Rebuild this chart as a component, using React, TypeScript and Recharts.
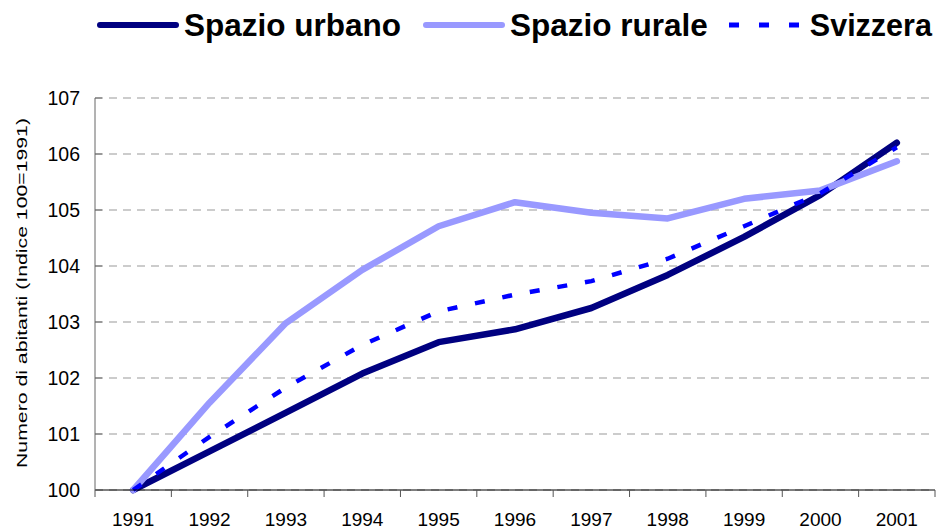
import React from "react";
import { LineChart, Line, XAxis, YAxis, CartesianGrid } from "recharts";

const years = ["1991", "1992", "1993", "1994", "1995", "1996", "1997", "1998", "1999", "2000", "2001"];
const urbano = [100, 100.69, 101.38, 102.08, 102.64, 102.87, 103.25, 103.84, 104.52, 105.27, 106.2];
const rurale = [100, 101.56, 102.98, 103.93, 104.71, 105.14, 104.95, 104.85, 105.2, 105.35, 105.87];
const svizzera = [100, 100.95, 101.83, 102.59, 103.19, 103.49, 103.73, 104.13, 104.71, 105.3, 106.12];
const yTicks = [100, 101, 102, 103, 104, 105, 106, 107];

const seriesNames = ["Spazio urbano", "Spazio rurale", "Svizzera"];
const seriesColors = ["#000080", "#9999FF", "#0000FF"];

const data = years.map((y, i) => ({ year: y, urbano: urbano[i], rurale: rurale[i], svizzera: svizzera[i] }));

const W = 940;
const H = 529;
const M = { top: 98, right: 5, bottom: 0, left: 0 };
const Y_W = 95;
const X_H = 39;
const BAND = (W - M.left - M.right - Y_W) / years.length;
const FONT = "'Liberation Sans', Arial, sans-serif";

const XTick = (props: any) => {
  const { x, y, payload, index } = props;
  const left = x - BAND / 2;
  return (
    <g>
      <line x1={left} y1={y} x2={left} y2={y + 7} stroke="#555" strokeWidth={1} />
      {index === years.length - 1 && (
        <line x1={x + BAND / 2} y1={y} x2={x + BAND / 2} y2={y + 7} stroke="#555" strokeWidth={1} />
      )}
      <text x={x} y={y + 23} dy="0.71em" textAnchor="middle" fontSize={19} fontFamily={FONT} fill="#000">
        {payload.value}
      </text>
    </g>
  );
};

const YTick = (props: any) => {
  const { x, y, payload } = props;
  return (
    <g>
      <line x1={x} y1={y} x2={x + 7} y2={y} stroke="#666" strokeWidth={1} />
      <text x={x - 15} y={y} dy="0.36em" textAnchor="end" fontSize={19.5} fontFamily={FONT} fill="#000">
        {payload.value}
      </text>
    </g>
  );
};

const YLabel = () => (
  <text
    x={27}
    y={293}
    transform="rotate(-90 27 293)"
    textAnchor="middle"
    fontSize={15}
    fontFamily={FONT}
    fill="#000"
    textLength={350}
    lengthAdjust="spacingAndGlyphs"
  >
    Numero di abitanti (Indice 100=1991)
  </text>
);

const legendSvgW = [82, 82, 72];
const legendTextGap = [5, 5, 9];
const legendItemGap = [22, 21, 0];

const Legend = () => (
  <div
    style={{
      position: "absolute",
      left: 97,
      top: 5,
      display: "flex",
      alignItems: "center",
      fontFamily: FONT,
      fontWeight: "bold",
      fontSize: 31.5,
      lineHeight: "40px",
      color: "#000",
      whiteSpace: "nowrap",
    }}
  >
    {seriesNames.map((n, i) => (
      <div key={n} style={{ display: "flex", alignItems: "center", marginRight: legendItemGap[i] }}>
        <svg width={legendSvgW[i]} height={12} style={{ marginRight: legendTextGap[i] }}>
          {i === 2 ? (
            <line x1={0} y1={6} x2={72} y2={6} stroke={seriesColors[i]} strokeWidth={5} strokeDasharray="10 20" />
          ) : (
            <line x1={3} y1={6} x2={79} y2={6} stroke={seriesColors[i]} strokeWidth={6} strokeLinecap="round" />
          )}
        </svg>
        <span style={{ fontSize: i === 2 ? 30.5 : 31.5 }}>{n}</span>
      </div>
    ))}
  </div>
);

export default function App() {
  return (
    <div style={{ position: "fixed", left: 0, top: 0, width: W, height: H, background: "#fff" }}>
      <Legend />
      <LineChart width={W} height={H} data={data} margin={M}>
        <CartesianGrid vertical={false} stroke="#999" strokeDasharray="8 6" />
        <XAxis
          dataKey="year"
          scale="band"
          height={X_H}
          axisLine={{ stroke: "#000", strokeWidth: 1 }}
          tickLine={false}
          tickSize={0}
          tickMargin={0}
          tick={<XTick />}
          interval={0}
        />
        <YAxis
          width={Y_W}
          domain={[100, 107]}
          ticks={yTicks}
          axisLine={{ stroke: "#666", strokeWidth: 1 }}
          tickLine={false}
          tickSize={0}
          tickMargin={0}
          tick={<YTick />}
          label={<YLabel />}
          interval={0}
        />
        <Line
          dataKey="urbano"
          name={seriesNames[0]}
          stroke={seriesColors[0]}
          strokeWidth={6.5}
          strokeLinecap="round"
          strokeLinejoin="round"
          dot={false}
          isAnimationActive={false}
        />
        <Line
          dataKey="rurale"
          name={seriesNames[1]}
          stroke={seriesColors[1]}
          strokeWidth={6.5}
          strokeLinecap="round"
          strokeLinejoin="round"
          dot={false}
          isAnimationActive={false}
        />
        <Line
          dataKey="svizzera"
          name={seriesNames[2]}
          stroke={seriesColors[2]}
          strokeWidth={4.5}
          strokeDasharray="10 18"
          dot={false}
          isAnimationActive={false}
        />
      </LineChart>
    </div>
  );
}
